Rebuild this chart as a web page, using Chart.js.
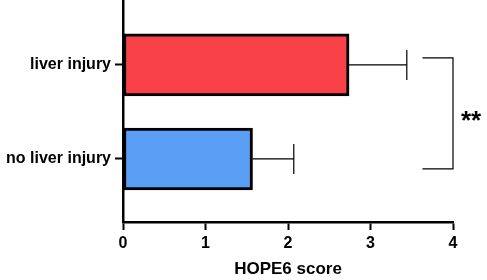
<!DOCTYPE html>
<html>
<head>
<meta charset="utf-8">
<script src="https://cdn.jsdelivr.net/npm/chart.js@4"></script>
<style>
  html, body { margin: 0; padding: 0; background: #fff; }
  #wrap { width: 487px; height: 280px; }
</style>
</head>
<body>
<div id="wrap"><canvas id="myChart"></canvas></div>
<script>
// data
let categories = ["liver injury", "no liver injury"];
let means = [2.74, 1.57];
let errors = [0.70, 0.50];
let barColors = ["#F94247", "#5A9EF5"];
let xTicks = [0, 1, 2, 3, 4];
let bracket = { from: 0, to: 1, x0: 3.63, x1: 4.0, label: "**" };

let font = "'Liberation Sans', Arial, sans-serif";

// error bars + significance bracket
let extras = {
  id: "extras",
  afterDatasetsDraw(chart) {
    let c = chart.ctx;
    let xs = chart.scales.x;
    let ys = chart.scales.y;
    c.save();
    c.strokeStyle = "#000";
    c.lineWidth = 1.2;
    means.forEach((m, i) => {
      let y = ys.getPixelForValue(i);
      let x0 = xs.getPixelForValue(m);
      let x1 = xs.getPixelForValue(m + errors[i]);
      c.beginPath();
      c.moveTo(x0, y);
      c.lineTo(x1, y);
      c.moveTo(x1, y - 15);
      c.lineTo(x1, y + 15);
      c.stroke();
    });
    let yt = ys.getPixelForValue(bracket.from) - 7;
    let yb = ys.getPixelForValue(bracket.to) + 10;
    let bx0 = xs.getPixelForValue(bracket.x0);
    let bx1 = xs.getPixelForValue(bracket.x1);
    c.beginPath();
    c.moveTo(bx0, yt);
    c.lineTo(bx1, yt);
    c.lineTo(bx1, yb);
    c.lineTo(bx0, yb);
    c.stroke();
    c.fillStyle = "#000";
    c.font = "bold 26px " + font;
    c.textAlign = "left";
    c.textBaseline = "middle";
    c.fillText(bracket.label, bx1 + 8, (yt + yb) / 2 + 8);
    c.restore();
  }
};

let ctx = document.getElementById("myChart").getContext("2d");
let chart = new Chart(ctx, {
  type: "bar",
  data: {
    datasets: [
      {
        data: means.map((m, i) => ({ x: m, y: i })),
        backgroundColor: barColors,
        borderColor: "#000",
        borderWidth: 3,
        borderSkipped: false,
        barThickness: 62,
      },
    ],
  },
  options: {
    indexAxis: "y",
    responsive: true,
    maintainAspectRatio: false,
    animation: false,
    layout: { padding: { top: 0, right: 34, left: 0, bottom: 0 } },
    plugins: { legend: { display: false }, tooltip: { enabled: false } },
    scales: {
      x: {
        type: "linear",
        min: 0,
        max: 4,
        afterBuildTicks: (s) => { s.ticks = xTicks.map((v) => ({ value: v })); },
        afterFit: (s) => { s.height = 58; },
        grid: { drawOnChartArea: false, tickLength: 8, tickWidth: 2, tickColor: "#000" },
        border: { color: "#000", width: 2.5 },
        ticks: { color: "#000", padding: 4, font: { family: font, size: 16, weight: "bold" } },
        title: {
          display: true,
          text: "HOPE6 score",
          color: "#000",
          padding: { top: 2, bottom: 0 },
          font: { family: font, size: 17, weight: "bold" },
        },
      },
      y: {
        type: "linear",
        reverse: true,
        offset: false,
        min: -0.69,
        max: 1.67,
        afterBuildTicks: (s) => { s.ticks = categories.map((c, i) => ({ value: i })); },
        afterFit: (s) => { s.width = 123; s.paddingTop = 0; s.paddingBottom = 0; },
        grid: { offset: false, drawOnChartArea: false, tickLength: 8, tickWidth: 2, tickColor: "#000" },
        border: { color: "#000", width: 2.5 },
        ticks: {
          color: "#000",
          padding: 4,
          font: { family: font, size: 16, weight: "bold" },
          callback: (v) => categories[v],
        },
      },
    },
  },
  plugins: [extras],
});
</script>
</body>
</html>
